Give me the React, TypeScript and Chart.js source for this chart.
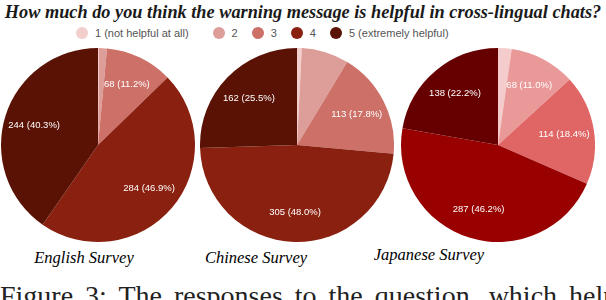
import React, { useEffect, useRef } from "react";
import { Chart, registerables } from "chart.js";

Chart.register(...registerables);

const TITLE = "How much do you think the warning message is helpful in cross-lingual chats?";
const CATEGORIES = ["1 (not helpful at all)", "2", "3", "4", "5 (extremely helpful)"];
const ENGLISH = [1, 8, 68, 284, 244];
const CHINESE = [5, 50, 113, 305, 162];
const JAPANESE = [14, 68, 114, 287, 138];
const SURVEY_NAMES = ["English Survey", "Chinese Survey", "Japanese Survey"];
const BROWN = ["#f2cfcc", "#dd9e9a", "#cc7068", "#8a2010", "#5a1205"];
const RED = ["#f4cccc", "#ea9999", "#e06666", "#990000", "#660000"];
const FIGURE_TEXT = "Figure 3: The responses to the question, which help";

const labelPlugin = {
  id: "sliceLabels",
  afterDatasetsDraw(chart: any) {
    const ctx = chart.ctx;
    const meta = chart.getDatasetMeta(0);
    const data = chart.data.datasets[0].data as number[];
    const total = data.reduce((a, b) => a + b, 0);
    ctx.save();
    ctx.fillStyle = "#ffffff";
    ctx.font = "9.5px 'Liberation Sans', Arial, sans-serif";
    ctx.textAlign = "center";
    ctx.textBaseline = "middle";
    meta.data.forEach((arc: any, i: number) => {
      const v = data[i];
      if (v / total < 0.09) return;
      const p = arc.getProps(["x", "y", "startAngle", "endAngle", "outerRadius"], true);
      const mid = (p.startAngle + p.endAngle) / 2;
      const r = p.outerRadius * 0.69;
      const x = p.x + Math.cos(mid) * r;
      const y = p.y + Math.sin(mid) * r;
      ctx.fillText(`${v} (${((v / total) * 100).toFixed(1)}%)`, x, y);
    });
    ctx.restore();
  },
};

function Pie({ values, colors, left, top, size }: { values: number[]; colors: string[]; left: number; top: number; size: number }) {
  const ref = useRef<HTMLCanvasElement>(null);
  useEffect(() => {
    if (!ref.current) return;
    const chart = new Chart(ref.current, {
      type: "pie",
      data: {
        labels: CATEGORIES,
        datasets: [{ data: values, backgroundColor: colors, borderWidth: 0 }],
      },
      options: {
        responsive: false,
        animation: false,
        layout: { padding: 0 },
        plugins: { legend: { display: false }, tooltip: { enabled: false } },
      },
      plugins: [labelPlugin],
    });
    return () => chart.destroy();
  }, []);
  return (
    <canvas
      ref={ref}
      width={size}
      height={size}
      style={{ position: "absolute", left, top, width: size, height: size }}
    />
  );
}

export default function App() {
  useEffect(() => {
    document.body.style.margin = "0";
  }, []);
  const caption = (text: string, cx: number, cy: number) => (
    <div
      key={text}
      style={{
        position: "absolute",
        left: cx - 80,
        width: 160,
        top: cy - 11,
        height: 22,
        lineHeight: "22px",
        textAlign: "center",
        fontFamily: "'Liberation Serif', serif",
        fontStyle: "italic",
        fontSize: 16.5,
        color: "#000",
      }}
    >
      {text}
    </div>
  );
  return (
    <div style={{ position: "relative", width: 606, height: 300, overflow: "hidden", background: "#fff" }}>
      <div
        style={{
          position: "absolute",
          left: 0,
          top: 1,
          width: 606,
          textAlign: "center",
          fontFamily: "'Liberation Serif', serif",
          fontWeight: "bold",
          fontStyle: "italic",
          fontSize: 18.3,
          lineHeight: "22px",
          color: "#1a1a1a",
          whiteSpace: "nowrap",
        }}
      >
        {TITLE}
      </div>
      <div
        style={{
          position: "absolute",
          left: 76,
          top: 26,
          height: 14,
          display: "flex",
          alignItems: "center",
          fontFamily: "'Liberation Sans', Arial, sans-serif",
          fontSize: 11,
          color: "#555",
          whiteSpace: "nowrap",
        }}
      >
        {CATEGORIES.map((c, i) => (
          <div key={c} style={{ display: "flex", alignItems: "center", marginRight: i === 0 ? 24 : 14 }}>
            <span
              style={{
                display: "inline-block",
                width: 12,
                height: 12,
                borderRadius: 6,
                background: BROWN[i],
                marginRight: 7,
              }}
            />
            <span>{c}</span>
          </div>
        ))}
      </div>
      <Pie values={ENGLISH} colors={BROWN} left={1} top={48} size={194} />
      <Pie values={CHINESE} colors={BROWN} left={200} top={48} size={194} />
      <Pie values={JAPANESE} colors={RED} left={401} top={48} size={194} />
      {caption(SURVEY_NAMES[0], 84, 258)}
      {caption(SURVEY_NAMES[1], 256, 258)}
      {caption(SURVEY_NAMES[2], 429, 255)}
      <div
        style={{
          position: "absolute",
          left: 0,
          top: 281,
          fontFamily: "'Liberation Serif', serif",
          fontSize: 28,
          lineHeight: "30px",
          color: "#222",
          whiteSpace: "nowrap",
          wordSpacing: 5,
        }}
      >
        {FIGURE_TEXT}
      </div>
    </div>
  );
}
